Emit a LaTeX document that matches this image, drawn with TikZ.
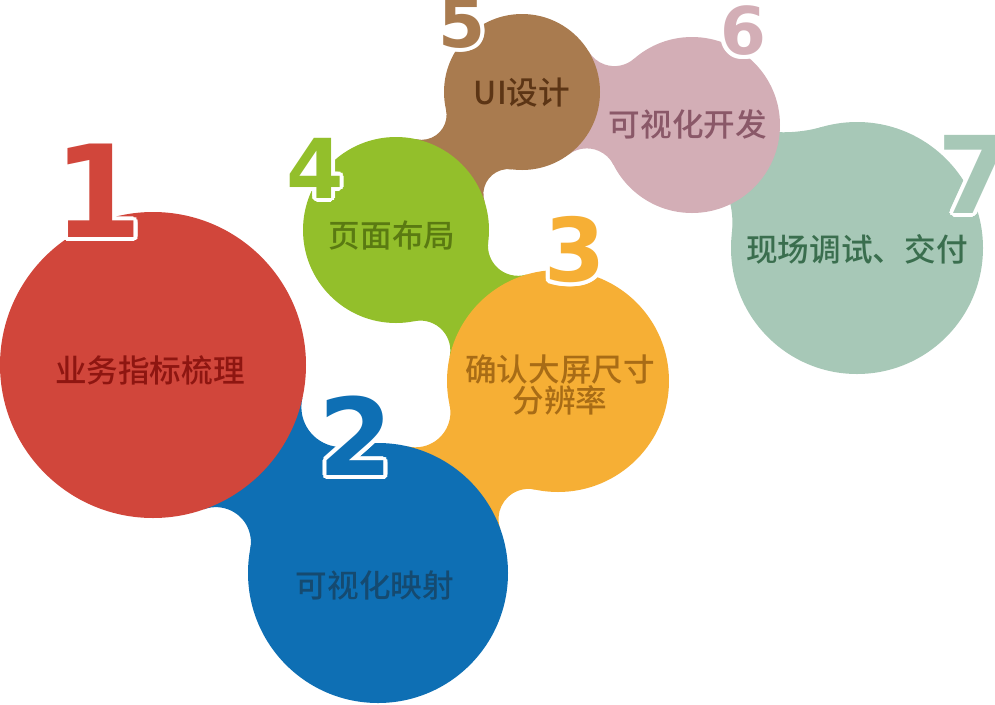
\documentclass[tikz,border=0pt]{standalone}
\usepackage{fontspec}
\usepackage{tikz}
\usetikzlibrary{calc}
\newfontfamily\cjk{Noto Sans CJK SC}[BoldFont={Noto Sans CJK SC Medium}]
\newfontfamily\numfont{DejaVu Sans}
\definecolor{redball}{HTML}{D1463B}
\definecolor{blueball}{HTML}{0E6FB4}
\definecolor{orangeball}{HTML}{F6AF35}
\definecolor{greenball}{HTML}{93BF2B}
\definecolor{brownball}{HTML}{A97B4F}
\definecolor{pinkball}{HTML}{D3AEB6}
\definecolor{sageball}{HTML}{A7C8B7}
\definecolor{redtext}{HTML}{8E1611}
\definecolor{bluetext}{HTML}{154A70}
\definecolor{orangetext}{HTML}{A86C16}
\definecolor{greentext}{HTML}{5A7A12}
\definecolor{browntext}{HTML}{5C3515}
\definecolor{pinktext}{HTML}{8A5868}
\definecolor{sagetext}{HTML}{3A6E4E}
\tikzstyle{caption}=[inner sep=0pt, align=center, font=\cjk\bfseries\fontsize{18}{17.6}\selectfont]
\tikzstyle{numtext}=[inner sep=0pt]
% fillet circle touching both balls, sign #1, radius #2 (px)
\newcommand\fillet[2]{%
  \pgfmathsetmacro\fRa{\cra+#2/100}\pgfmathsetmacro\fRb{\crb+#2/100}%
  \pgfmathsetmacro\fa{(\cdd*\cdd+\fRa*\fRa-\fRb*\fRb)/(2*\cdd)}%
  \pgfmathsetmacro\fh{sqrt(\fRa*\fRa-\fa*\fa)}%
  \pgfmathsetmacro\fx{\cxa+\fa*(\cux)-#1*\fh*(\cuy)}%
  \pgfmathsetmacro\fy{\cya+\fa*(\cuy)+#1*\fh*(\cux)}%
  \pgfmathsetmacro\fta{atan2(\cya-(\fy),\cxa-(\fx))}%
  \pgfmathsetmacro\ftb{atan2(\cyb-(\fy),\cxb-(\fx))}%
  \pgfmathsetmacro\ftd{mod(\ftb-(\fta)+540,360)-180}%
}
% neck between two balls: colour, x1, y1, r1, x2, y2, r2, fillet A, fillet B
\newcommand\neck[9]{%
  \pgfmathsetmacro\cxa{#2/100}\pgfmathsetmacro\cya{#3/100}\pgfmathsetmacro\cra{#4/100}%
  \pgfmathsetmacro\cxb{#5/100}\pgfmathsetmacro\cyb{#6/100}\pgfmathsetmacro\crb{#7/100}%
  \pgfmathsetmacro\cdd{veclen(\cxb-\cxa,\cyb-\cya)}%
  \pgfmathsetmacro\cux{(\cxb-\cxa)/\cdd}\pgfmathsetmacro\cuy{(\cyb-\cya)/\cdd}%
  \fillet{1}{#8}\let\pAx\fx\let\pAy\fy\let\pAa\fta\let\pAd\ftd
  \fillet{-1}{#9}\let\pBx\fx\let\pBy\fy\let\pBb\ftb\let\pBd\ftd
  \fill [#1] ({100*\pAx+#8*cos(\pAa)},{100*\pAy+#8*sin(\pAa)})
    arc [start angle=\pAa, delta angle=\pAd, radius=#8] -- (#5,#6)
    -- ({100*\pBx+#9*cos(\pBb)},{100*\pBy+#9*sin(\pBb)})
    arc [start angle=\pBb, delta angle={-(\pBd)}, radius=#9] -- (#2,#3) -- cycle;
}
% big digit with a white rim
\newcommand\bignum[5]{%
  \foreach \a in {0,22.5,...,337.5}
    \node [numtext, text=white, font=\numfont\bfseries\fontsize{#3}{#3}\selectfont] at ($(#2)+(\a:4)$) {#5};
  \node [numtext, text=#4, font=\numfont\bfseries\fontsize{#3}{#3}\selectfont] (#1) at (#2) {#5};
}

\begin{document}
\begin{tikzpicture}[x=0.02cm, y=-0.02cm]
	\useasboundingbox (0,0) rectangle (995,704);
	% balls, from the back to the front
	\fill [sageball] (857,248) circle [radius=126];
	\neck{sageball}{692}{125}{20}{857}{248}{126}{90}{146}
	\fill [pinkball] (692,125) circle [radius=88];
	\neck{pinkball}{522}{92}{78}{692}{125}{88}{30}{30}
	\fill [brownball] (522,92) circle [radius=78];
	\neck{brownball}{396}{230}{93}{522}{92}{78}{25}{25}
	\fill [greenball] (396,230) circle [radius=93];
	\neck{greenball}{558}{381}{111}{396}{230}{93}{30}{30}
	\fill [orangeball] (558,381) circle [radius=111];
	\neck{orangeball}{378}{573}{130}{558}{381}{111}{30}{35}
	\fill [blueball] (378,573) circle [radius=130];
	\neck{blueball}{153}{365}{153}{378}{573}{130}{35}{40}
	\fill [redball] (153,365) circle [radius=153];
	% captions
	\node [caption, text=redtext] (t1) at (150,370) {业务指标梳理};
	\node [caption, text=bluetext] (t2) at (375,586) {可视化映射};
	\node [caption, text=orangetext] (t3) at (560,385) {确认大屏尺寸\\分辨率};
	\node [caption, text=greentext] (t4) at (392,235) {页面布局};
	\node [caption, text=browntext] (t5) at (522,93) {UI设计};
	\node [caption, text=pinktext] (t6) at (688,124) {可视化开发};
	\node [caption, text=sagetext] (t7) at (857,249) {现场调试、交付};
	% numbers
	\bignum{n1}{98,191}{73}{redball}{1}
	\bignum{n2}{356,436}{61}{blueball}{2}
	\bignum{n3}{575,250}{50}{orangeball}{3}
	\bignum{n4}{315,168}{47}{greenball}{4}
	\bignum{n5}{462,23}{38.5}{brownball}{5}
	\bignum{n6}{743,31}{37.5}{pinkball}{6}
	\bignum{n7}{975,174}{61}{sageball}{7}
\end{tikzpicture}
\end{document}
